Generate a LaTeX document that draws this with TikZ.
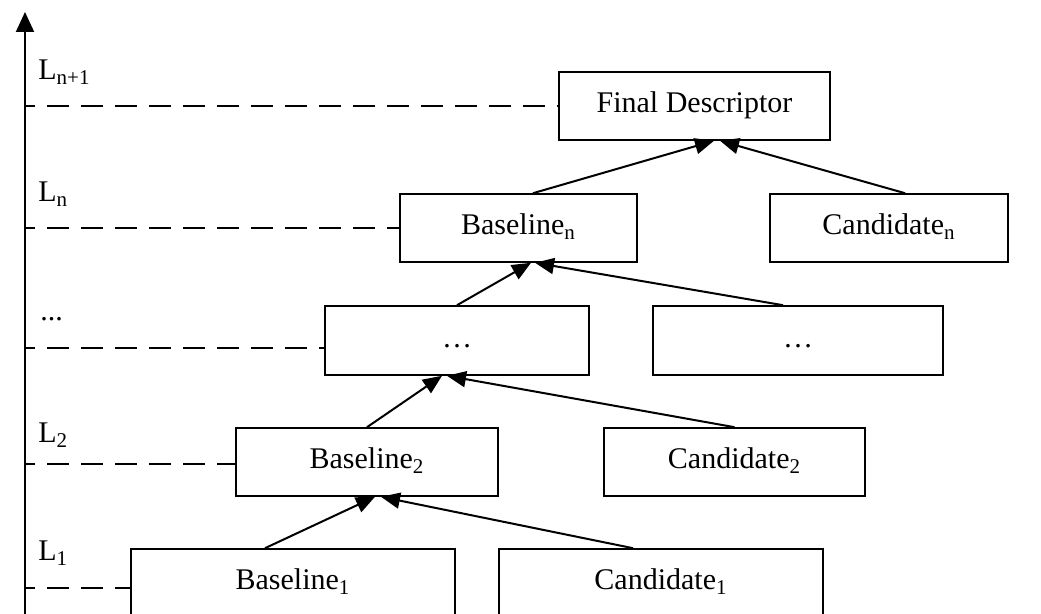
\documentclass[tikz,border=0pt]{standalone}
\usepackage{fontspec}
\setmainfont{Liberation Serif}
\usetikzlibrary{arrows.meta}
\begin{document}
\begin{tikzpicture}[x=0.5pt,y=-0.5pt,
  box/.style={draw, line width=0.8pt, minimum height=34pt, inner sep=0pt,
    text height=0.68em, text depth=0pt, font=\fontsize{15}{18}\selectfont},
  arr/.style={line width=1pt, -{Triangle[length=9.5pt,width=8pt]}},
  dsh/.style={line width=1.4pt, dash pattern=on 11pt off 6pt, dash phase=6pt},
  lbl/.style={anchor=base west, inner sep=0pt, font=\fontsize{15}{18}\selectfont}]
\useasboundingbox (0,0) rectangle (1041,614);
\clip (0,0) rectangle (1041,614);

% boxes
\node[box, minimum width=135.5pt] (fd) at (694.5,106) {Final Descriptor};
\node[box, minimum width=118.5pt] (bn) at (518.5,228) {Baseline\textsubscript{n}};
\node[box, minimum width=119pt] (cn) at (889,228) {Candidate\textsubscript{n}};
\node[box, minimum width=132pt, minimum height=34.5pt] (dl) at (457,340.5) {…};
\node[box, minimum width=145pt, minimum height=34.5pt] (dr) at (798,340.5) {…};
\node[box, minimum width=131pt] (b2) at (367,462) {Baseline\textsubscript{2}};
\node[box, minimum width=130.5pt] (c2) at (734.5,462) {Candidate\textsubscript{2}};
\node[box, minimum width=162pt] (b1) at (293,583) {Baseline\textsubscript{1}};
\node[box, minimum width=162pt] (c1) at (661,583) {Candidate\textsubscript{1}};

% axis
\coordinate (axb) at (25,620);
\coordinate (axt) at (25,12);
\draw[line width=1pt, -{Triangle[length=10pt,width=9pt]}] (axb) -- (axt);

% level labels
\node[lbl] (lnp) at (38,80) {L\textsubscript{n+1}};
\node[lbl] (ln) at (38,202) {L\textsubscript{n}};
\node[lbl] (ld) at (40,321) {...};
\node[lbl] (l2) at (38,443) {L\textsubscript{2}};
\node[lbl] (l1) at (38,561) {L\textsubscript{1}};

% dashed level lines
\coordinate (aF) at (25,106);
\coordinate (aN) at (25,228);
\coordinate (aD) at (25,348);
\coordinate (a2) at (25,464);
\coordinate (a1) at (25,588);
\draw[dsh] (aF) -- (fd.west |- aF);
\draw[dsh] (aN) -- (bn.west |- aN);
\draw[dsh] (aD) -- (dl.west |- aD);
\draw[dsh] (a2) -- (b2.west |- a2);
\draw[dsh] (a1) -- (b1.west |- a1);

% arrows
\draw[arr] ([xshift=7.25pt]bn.north) -- ([xshift=9.75pt]fd.south);
\draw[arr] ([xshift=8pt]cn.north) -- ([xshift=12.75pt]fd.south);
\draw[arr] (dl.north) -- ([xshift=6.25pt]bn.south);
\draw[arr] ([xshift=-7.5pt]dr.north) -- ([xshift=8.25pt]bn.south);
\draw[arr] (b2.north) -- ([xshift=-7.5pt]dl.south);
\draw[arr] (c2.north) -- ([xshift=-5pt]dl.south);
\draw[arr] ([xshift=-14pt]b1.north) -- ([xshift=4pt]b2.south);
\draw[arr] ([xshift=-14pt]c1.north) -- ([xshift=7pt]b2.south);
\end{tikzpicture}
\end{document}
